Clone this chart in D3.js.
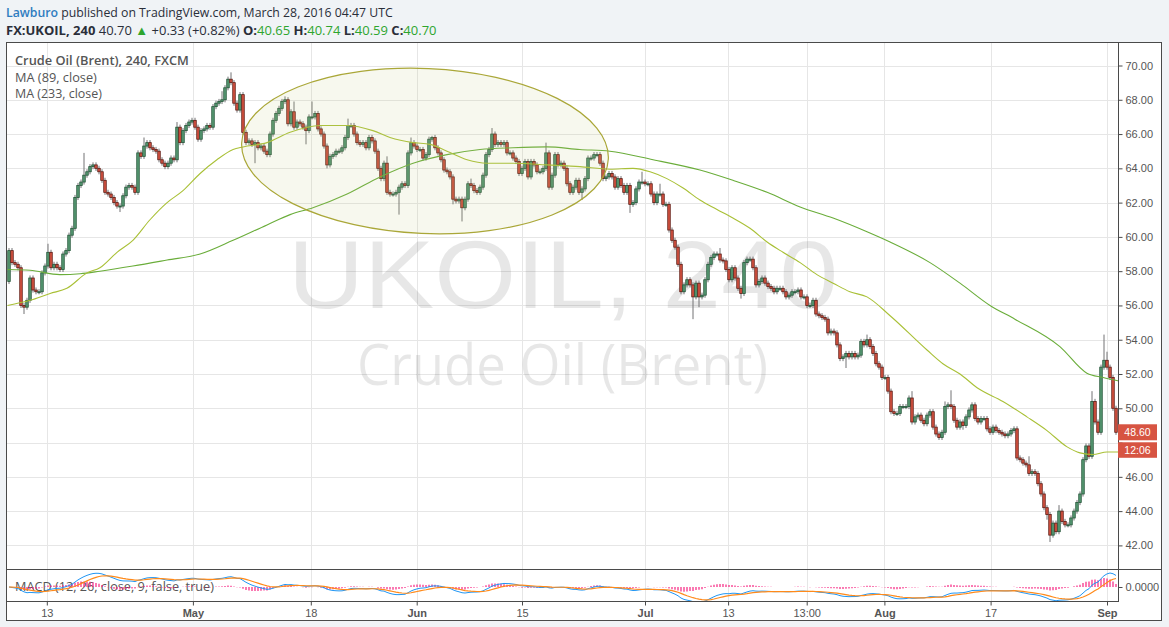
<!DOCTYPE html>
<html><head><meta charset="utf-8">
<script src="https://cdn.jsdelivr.net/npm/d3@7/dist/d3.min.js"></script>
<style>
html,body{margin:0;padding:0;background:#f0f3f6;overflow:hidden}
svg{display:block}
</style></head><body>
<svg id="c" width="1169" height="627"></svg>
<script>
// ---------------- DATA ----------------
const firstOpen = 57.4;
const closes = [
59.2,58.5,58.4,58.2,56.0,55.9,56.3,57.6,56.9,56.8,
56.8,57.9,58.3,59.1,58.2,58.4,58.2,58.1,59.0,59.2,
60.1,60.5,62.3,63.0,63.2,63.6,63.8,64.1,64.2,64.0,
63.8,63.3,62.6,62.5,62.3,62.0,61.8,61.8,62.4,62.9,
63.0,62.9,62.6,64.9,64.7,65.3,65.5,65.2,65.1,65.0,
64.5,64.3,64.1,64.3,64.6,64.5,66.4,65.5,66.2,66.5,
66.7,66.8,66.4,65.7,66.2,66.3,66.5,66.4,67.6,67.8,
67.9,68.0,68.7,69.2,69.0,67.8,67.4,68.3,66.1,65.5,
65.6,65.4,65.5,65.2,65.3,65.0,64.8,66.0,66.8,67.2,
67.5,67.9,68.0,66.6,67.3,66.4,66.7,66.6,66.4,66.2,
67.0,67.0,67.2,66.3,66.0,65.3,64.2,64.7,64.8,65.0,
65.0,65.2,65.8,66.5,66.5,66.0,65.5,65.4,65.5,65.2,
65.8,65.6,65.0,64.0,63.4,64.3,62.6,62.5,62.5,62.6,
62.9,63.1,63.0,64.9,65.5,65.3,65.1,65.1,64.6,64.8,
65.7,65.8,65.2,64.9,64.5,63.9,63.8,63.5,62.2,62.1,
62.2,61.7,62.2,63.1,63.0,62.7,62.6,62.9,63.6,64.8,
65.1,66.0,65.4,65.5,65.4,65.5,64.9,64.9,64.6,64.4,
63.7,64.0,64.4,63.5,64.4,64.2,63.8,63.8,64.0,64.9,
62.9,63.6,64.8,64.2,64.3,64.0,63.1,62.6,62.9,63.3,
62.6,62.8,63.4,64.6,64.6,64.8,64.8,64.3,63.4,63.5,
63.7,63.5,62.9,63.4,63.0,62.6,63.0,61.9,62.0,62.8,
63.2,63.2,63.1,63.1,62.5,62.0,62.5,62.5,61.9,61.9,
60.4,59.8,59.4,58.4,56.8,57.2,57.5,57.2,56.5,57.3,
56.5,56.6,57.5,58.4,58.8,59.0,59.0,58.65,58.6,58.1,
57.5,58.2,57.6,57.0,56.7,58.5,58.7,58.7,58.2,57.2,
57.4,57.6,57.3,57.1,57.0,56.8,57.0,57.0,56.8,56.5,
56.6,56.8,56.8,56.9,56.5,56.5,56.0,56.0,56.3,55.5,
55.4,55.3,55.2,54.4,54.5,54.4,53.7,52.9,53.0,53.2,
53.0,53.2,53.0,53.1,53.9,53.7,54.0,53.6,53.2,52.6,
52.4,51.8,51.8,51.0,49.8,49.7,49.7,50.1,50.1,50.1,
50.6,49.2,49.5,49.6,49.3,49.1,49.6,49.8,48.9,48.5,
48.3,48.6,50.1,50.2,50.1,49.3,48.9,49.2,49.0,49.5,
49.9,50.2,49.4,49.2,49.4,49.4,48.8,48.6,48.9,48.7,
48.6,48.5,48.4,48.5,48.7,48.8,47.1,47.0,46.8,46.7,
46.2,46.3,46.2,45.6,45.0,44.2,43.8,42.6,43.3,42.8,
44.0,43.4,43.2,43.2,43.6,44.0,44.5,45.0,47.0,47.8,
47.2,50.4,49.2,48.6,52.4,52.8,52.4,51.8,50.0,48.6
];
// long wicks: [candle index, high, low]
const wickExtremes = [
[5,null,55.5],[13,59.6,null],[25,64.9,null],[37,null,61.45],[45,65.8,null],
[56,66.7,null],[71,68.5,null],[74,69.6,null],[82,null,64.3],[92,68.2,null],
[95,67.9,null],[99,null,65.4],[101,67.9,null],[106,null,64.0],[113,66.9,null],
[126,64.7,null],[130,null,61.3],[134,65.8,null],[141,65.9,null],[148,null,61.9],
[151,null,60.9],[154,63.4,null],[161,66.35,null],[179,65.5,null],[191,null,62.15],
[207,null,61.4],[211,63.8,null],[217,63.1,null],[228,null,55.2],[230,null,55.9],
[237,59.35,null],[244,null,56.4],[279,null,52.35],[286,54.3,null],[301,51.0,null],
[312,50.4,null],[314,51.05,null],[318,null,48.75],[340,47.2,null],[346,null,43.5],
[347,null,42.2],[350,44.35,null],[361,51.0,null],[365,54.3,null],[366,53.3,null]
];
// moving averages: [candle index, value]
const ma89Points = [
[-0.5,56.0],[7,56.3],[13.7,56.7],[19.3,57.0],[26,57.9],[30.3,58.2],[36,59.1],[41.3,59.8],
[47,61.0],[52.7,62.0],[58,62.7],[63.7,63.7],[69.3,64.5],[74.7,65.1],[78,65.25],[86,65.5],
[93.7,66.1],[103.7,66.5],[112.7,66.5],[121.3,66.2],[127,65.8],[134.7,65.5],[140.3,65.4],
[146,65.0],[152.7,64.5],[159.3,64.3],[168,64.3],[179.3,64.2],[190.3,64.1],[200.3,63.95],
[208,64.0],[213.7,63.8],[219.3,63.4],[224.7,62.85],[230.3,62.15],[236,61.6],[241.3,61.1],
[247,60.5],[252.7,59.7],[258,59.1],[263.7,58.5],[269.3,57.8],[274.7,57.3],[280.3,56.8],
[286,56.5],[293.7,55.4],[306,53.4],[311.3,52.6],[317,52.0],[322.7,51.2],[331.3,50.4],
[339.3,49.5],[346,48.7],[352.7,47.75],[357,47.4],[361.3,47.3],[366,47.45],[369.7,47.45]
];
const ma233Points = [
[-0.5,58.1],[7,58.05],[17,57.8],[23.7,57.85],[30.3,58.0],[41.3,58.3],[52.7,58.65],[63.7,59.0],
[74.7,59.8],[86,60.7],[93.7,61.3],[101.3,61.7],[112.7,62.5],[123.7,63.5],[134.7,64.3],
[146,64.8],[157,65.1],[168,65.2],[179.3,65.25],[190.3,65.1],[200.3,65.0],[214.7,64.5],
[230.3,63.9],[241.3,63.3],[252.7,62.6],[263.7,61.75],[274.7,61.1],[286,60.3],[293.7,59.7],
[307,58.5],[317,57.3],[327,56.0],[335.3,55.2],[350.3,53.6],[359.3,52.05],[364.7,51.8],[369.7,51.6]
];
const priceTicks = [42,44,46,48,50,52,54,56,58,60,62,64,66,68,70];
const timeTickIdx = [12.6,61.3,100.6,135.9,171,212,239.7,265.9,291.8,327.2,366];
const timeTickLabels = ["13","May","18","Jun","15","Jul","13","13:00","Aug","17","Sep"];
const monthNames = ["May","Jun","Jul","Aug","Sep"];
const lastPrice = 48.60;
const barTimer = "12:06";

// ---------------- LAYOUT ----------------
const svg = d3.select("#c");
const FR = {l:6, t:42, r:1162, b:621};
const AXX = 1118;
const MAIN_T = 42, MAIN_B = 569.5, MACD_T = 569.5, MACD_B = 601.5;
const n = closes.length;
const x = d3.scaleLinear().domain([0, n-1]).range([9, 9 + 3*(n-1)]);
const y = d3.scaleLinear().domain([42, 70]).range([545.4, 65.5]);
const SANS = "'Open Sans','Noto Sans',sans-serif";
const AXF = "'Liberation Sans',Arial,sans-serif";

function fitWidth(sel, target){
  const w = sel.node().getComputedTextLength();
  const fs = parseFloat(sel.attr("font-size"));
  if (w > 0) sel.attr("font-size", (fs * target / w).toFixed(2));
}

svg.append("rect").attr("width",1169).attr("height",627).attr("fill","#f0f3f6");

// header
const h1 = svg.append("text").attr("x",6).attr("y",16.5).attr("font-family",SANS).attr("font-size",14);
h1.append("tspan").attr("fill","#2f7cc0").attr("font-weight",600).text("Lawburo");
h1.append("tspan").attr("fill","#2a2e39").text(" published on TradingView.com, March 28, 2016 04:47 UTC");
fitWidth(h1, 387);

const h2 = svg.append("text").attr("x",6).attr("y",34.5).attr("font-family",SANS).attr("font-size",13.5).attr("fill","#2a2e39");
const green = "#2ea52e";
h2.append("tspan").attr("font-weight",700).text("FX:UKOIL, 240 ");
h2.append("tspan").text("40.70 ");
h2.append("tspan").attr("fill",green).text("▲");
h2.append("tspan").text(" +0.33 (+0.82%) ");
[["O:","40.65"],["H:","40.74"],["L:","40.59"],["C:","40.70"]].forEach(([k,v],i)=>{
  h2.append("tspan").attr("font-weight",700).text(k);
  h2.append("tspan").attr("fill",green).text(v + (i<3?" ":""));
});
fitWidth(h2, 431);

// chart background
svg.append("rect").attr("x",FR.l).attr("y",FR.t).attr("width",FR.r-FR.l).attr("height",FR.b-FR.t).attr("fill","#fff");

// grid
const grid = svg.append("g").attr("stroke","#e6e6e6").attr("stroke-width",1).attr("shape-rendering","crispEdges");
priceTicks.forEach(p=>{
  const yy = Math.round(y(p))+0.5;
  grid.append("line").attr("x1",FR.l).attr("x2",AXX).attr("y1",yy).attr("y2",yy);
});
timeTickIdx.forEach(t=>{
  const xx = Math.round(x(t))+0.5;
  grid.append("line").attr("x1",xx).attr("x2",xx).attr("y1",MAIN_T).attr("y2",MACD_B);
});

// clip for panes
const defs = svg.append("defs");
defs.append("clipPath").attr("id","mainClip").append("rect")
  .attr("x",FR.l+1).attr("y",MAIN_T+1).attr("width",AXX-FR.l-1).attr("height",MAIN_B-MAIN_T-1);
defs.append("clipPath").attr("id","macdClip").append("rect")
  .attr("x",FR.l+1).attr("y",MACD_T+1).attr("width",AXX-FR.l-1).attr("height",MACD_B-MACD_T-1);

// watermark
svg.append("text").attr("x",563).attr("y",308).attr("text-anchor","middle")
  .attr("font-family",AXF).attr("font-size",96)
  .attr("textLength",550).attr("lengthAdjust","spacingAndGlyphs")
  .attr("fill","#000").attr("fill-opacity",0.095).text("UKOIL, 240");
svg.append("text").attr("x",562.5).attr("y",385).attr("text-anchor","middle")
  .attr("font-family",SANS).attr("font-size",56)
  .attr("textLength",411).attr("lengthAdjust","spacingAndGlyphs")
  .attr("fill","#000").attr("fill-opacity",0.095).text("Crude Oil (Brent)");

// legend
const lg = svg.append("g").attr("font-family",SANS).attr("fill","#555");
const l1 = lg.append("text").attr("x",15).attr("y",64.5).attr("font-size",12.5).attr("font-weight",600).text("Crude Oil (Brent), 240, FXCM");
fitWidth(l1,174);
const l2 = lg.append("text").attr("x",15).attr("y",81.5).attr("font-size",12.5).text("MA (89, close)");
fitWidth(l2,82);
const l3 = lg.append("text").attr("x",15).attr("y",98).attr("font-size",12.5).text("MA (233, close)");
fitWidth(l3,87);

// candles
const pane = svg.append("g").attr("clip-path","url(#mainClip)");
const candles = closes.map((c,i)=>{
  const o = i===0 ? firstOpen : closes[i-1];
  return {i, o, c, h: Math.max(o,c)+0.15, l: Math.min(o,c)-0.15};
});
wickExtremes.forEach(([i,h,l])=>{
  if (h!==null) candles[i].h = h;
  if (l!==null) candles[i].l = l;
});
const UP="#579b74", DN="#d75442", UPB="#225437", DNB="#5b1a13", WICK="#737375";
pane.append("g").selectAll("line").data(candles).join("line")
  .attr("x1",d=>x(d.i)).attr("x2",d=>x(d.i))
  .attr("y1",d=>y(d.h)).attr("y2",d=>y(d.l))
  .attr("stroke",WICK).attr("stroke-width",1);
pane.append("g").selectAll("rect").data(candles).join("rect")
  .attr("x",d=>x(d.i)-1.25).attr("width",2.5)
  .attr("y",d=>Math.min(y(d.o),y(d.c)))
  .attr("height",d=>Math.max(1,Math.abs(y(d.o)-y(d.c))))
  .attr("fill",d=>d.c>=d.o?UP:DN)
  .attr("stroke",d=>d.c>=d.o?UPB:DNB).attr("stroke-width",0.8);

// moving averages
const maLine = d3.line().x(d=>x(d[0])).y(d=>y(d[1])).curve(d3.curveMonotoneX);
pane.append("path").attr("d",maLine(ma233Points)).attr("fill","none").attr("stroke","#6aad3a").attr("stroke-width",1.1);
pane.append("path").attr("d",maLine(ma89Points)).attr("fill","none").attr("stroke","#a9c036").attr("stroke-width",1.1);

// ellipse drawing
pane.append("ellipse").attr("cx",425).attr("cy",151).attr("rx",183.5).attr("ry",82.5)
  .attr("transform","rotate(2.5,425,151)")
  .attr("fill","#c5cc7a").attr("fill-opacity",0.13)
  .attr("stroke","#aaa738").attr("stroke-width",1.2);

// MACD
function ema(arr, len){
  const a = 2/(len+1); const out=[]; let prev=arr[0];
  arr.forEach((v,i)=>{ prev = i===0 ? v : a*v + (1-a)*prev; out.push(prev); });
  return out;
}
const e12 = ema(closes,12), e26 = ema(closes,26);
const macd = e12.map((v,i)=>v-e26[i]);
const signal = ema(macd,9);
const hist = macd.map((v,i)=>v-signal[i]);
const mMax = d3.max(macd.concat(signal));
const ym = d3.scaleLinear().domain([0, mMax]).range([587, 573]);

svg.append("text").attr("x",15).attr("y",591).attr("font-family",SANS).attr("font-size",12.5)
  .attr("fill","#555").text("MACD (12, 26, close, 9, false, true)").call(s=>fitWidth(s,199));

const mp = svg.append("g").attr("clip-path","url(#macdClip)");
mp.append("g").selectAll("line").data(hist).join("line")
  .attr("x1",(d,i)=>x(i)).attr("x2",(d,i)=>x(i))
  .attr("y1",ym(0)).attr("y2",d=>ym(d))
  .attr("stroke","#f7207f").attr("stroke-width",1.2);
const ml = d3.line().x((d,i)=>x(i)).y(d=>ym(d));
mp.append("path").attr("d",ml(macd)).attr("fill","none").attr("stroke","#2196f3").attr("stroke-width",1);
mp.append("path").attr("d",ml(signal)).attr("fill","none").attr("stroke","#ff8a1a").attr("stroke-width",1.2);

// frame & separators
const fr = svg.append("g").attr("stroke","#4a4a4a").attr("stroke-width",1).attr("fill","none").attr("shape-rendering","crispEdges");
fr.append("rect").attr("x",FR.l+0.5).attr("y",FR.t+0.5).attr("width",FR.r-FR.l-1).attr("height",FR.b-FR.t-1);
fr.append("line").attr("x1",FR.l).attr("x2",FR.r).attr("y1",MAIN_B).attr("y2",MAIN_B);
fr.append("line").attr("x1",FR.l).attr("x2",AXX).attr("y1",MACD_B).attr("y2",MACD_B);
fr.append("line").attr("x1",AXX+0.5).attr("x2",AXX+0.5).attr("y1",FR.t).attr("y2",MACD_B);

// price axis (the tick label covered by the last-price box is not shown, as in the reference)
const ly = y(lastPrice);
const boxTop = ly - 8, boxBottom = ly + 25.5;
const yAxis = d3.axisRight(y).tickValues(priceTicks).tickFormat(d3.format(".2f")).tickSize(4).tickPadding(3);
const ga = svg.append("g").attr("transform",`translate(${AXX+0.5},0)`).call(yAxis);
ga.select(".domain").remove();
ga.selectAll("line").attr("stroke","#4a4a4a");
ga.selectAll("text").attr("font-family",AXF).attr("font-size",11).attr("fill","#555");
ga.selectAll(".tick").filter(d=>y(d)+7 > boxTop && y(d)-7 < boxBottom).select("text").remove();

// MACD axis
const gm = svg.append("g").attr("transform",`translate(${AXX+0.5},0)`)
  .call(d3.axisRight(ym).tickValues([0]).tickFormat(d3.format(".4f")).tickSize(4).tickPadding(3));
gm.select(".domain").remove();
gm.selectAll("line").attr("stroke","#4a4a4a");
gm.selectAll("text").attr("font-family",AXF).attr("font-size",11).attr("fill","#555");

// time axis
const xAxis = d3.axisBottom(x).tickValues(timeTickIdx).tickFormat((d,i)=>timeTickLabels[i]).tickSize(4).tickPadding(4);
const gx = svg.append("g").attr("transform",`translate(0,${MACD_B})`).call(xAxis);
gx.select(".domain").remove();
gx.selectAll("line").attr("stroke","#4a4a4a");
gx.selectAll("text").attr("font-family",AXF).attr("font-size",11).attr("fill","#555")
  .attr("font-weight",(d,i)=>monthNames.includes(timeTickLabels[i])?700:400);

// last price & timer labels
svg.append("rect").attr("x",AXX).attr("y",ly-8).attr("width",39).attr("height",16).attr("fill","#d75442");
svg.append("text").attr("x",AXX+19.5).attr("y",ly+3.5).attr("text-anchor","middle").attr("font-family",AXF)
  .attr("font-size",10.5).attr("fill","#fff").text(d3.format(".2f")(lastPrice));
svg.append("rect").attr("x",AXX).attr("y",ly+10).attr("width",39).attr("height",15.5).attr("fill","#d75442");
svg.append("text").attr("x",AXX+19.5).attr("y",ly+21.8).attr("text-anchor","middle").attr("font-family",AXF)
  .attr("font-size",10.5).attr("fill","#fff").text(barTimer);
</script>
</body></html>
